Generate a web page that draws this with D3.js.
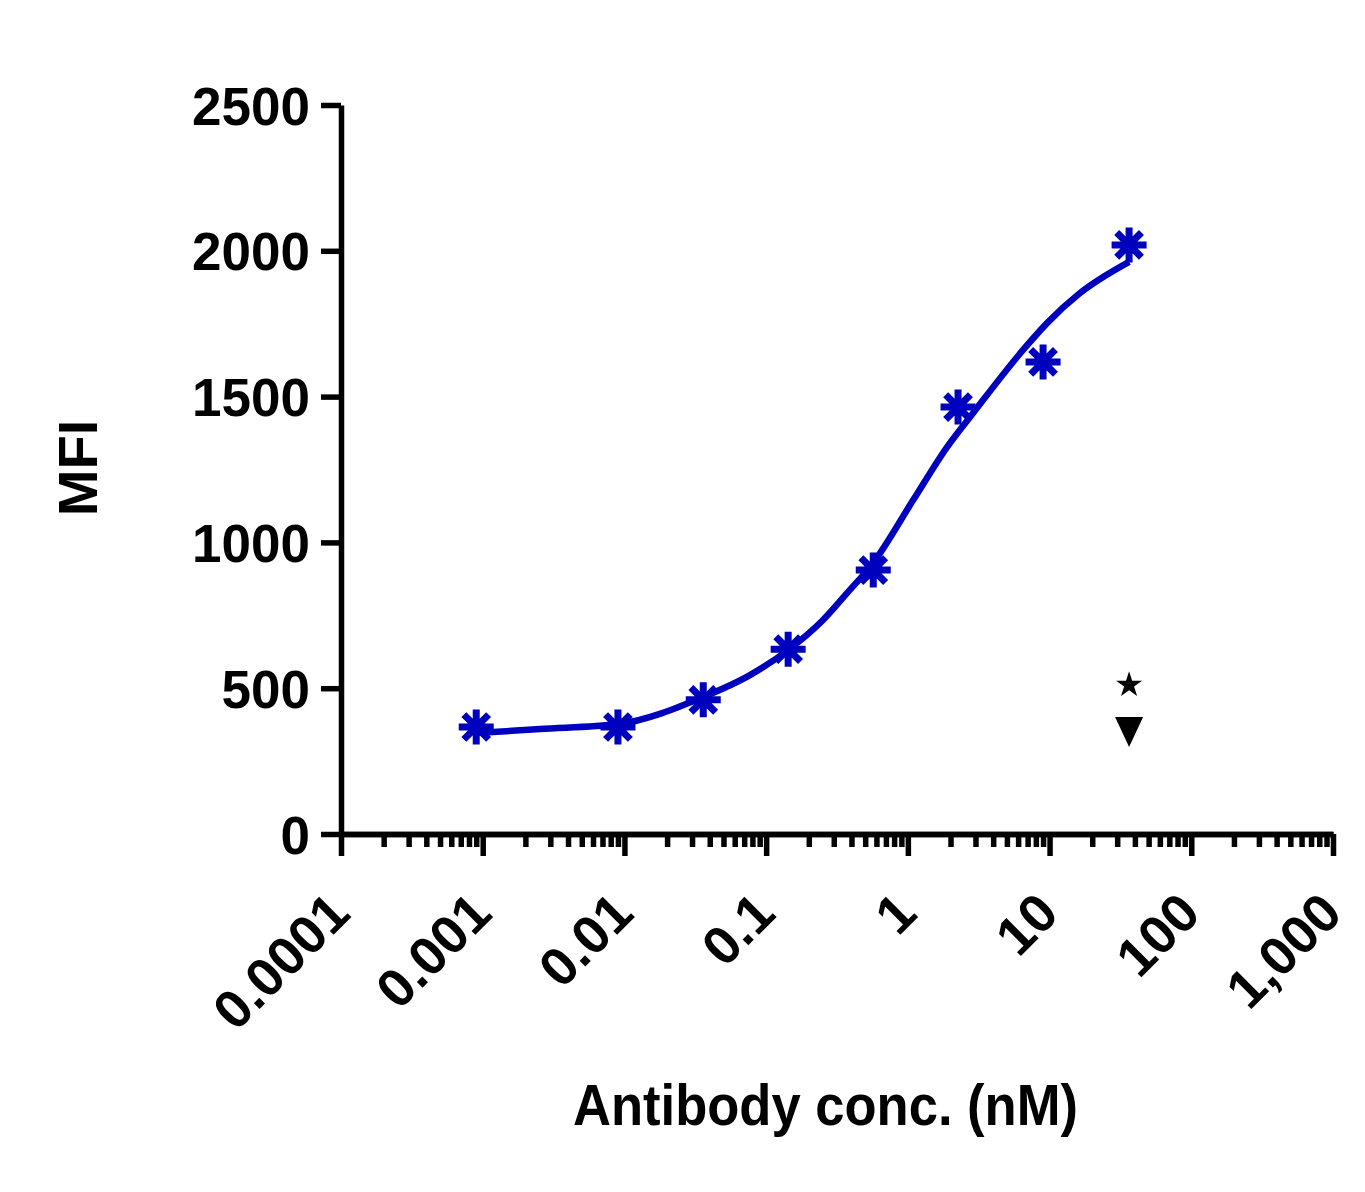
<!DOCTYPE html>
<html>
<head>
<meta charset="utf-8">
<script src="https://cdn.jsdelivr.net/npm/d3@7"></script>
<style>
  body { margin: 0; background: #fff; }
  text { font-family: "Liberation Sans", Arial, sans-serif; font-weight: bold; fill: #000; }
</style>
</head>
<body>
<div id="chart"></div>
<script>
// Data
var conc = [0.0009, 0.009, 0.036, 0.143, 0.57, 2.26, 9.0, 36.4];
var mfi = [367, 367, 460, 634, 905, 1464, 1619, 2020];

// fitted curve
var curveConc = [0.0009, 0.00254, 0.009, 0.036, 0.0769, 0.143, 0.252, 0.372, 0.568, 1.09, 1.89, 2.89, 6.5, 9.6, 16.4, 36.4];
var curveMfi = [346, 360, 377, 470, 545, 631, 734, 826, 929, 1145, 1327, 1444, 1660, 1752, 1855, 1962];

// two single black control points
var starPoint = { x: 36.4, y: 511 };
var trianglePoint = { x: 36.4, y: 350 };

var yTicks = [0, 500, 1000, 1500, 2000, 2500];
var xMajorTicks = [0.0001, 0.001, 0.01, 0.1, 1, 10, 100, 1000];
var xTickLabels = ["0.0001", "0.001", "0.01", "0.1", "1", "10", "100", "1,000"];

var svgWidth = 1365;
var svgHeight = 1192;
var blue = "#0000bf";

var svg = d3.select("#chart")
    .append("svg")
    .attr("width", svgWidth)
    .attr("height", svgHeight);

var xScale = d3.scaleLog()
    .domain([0.0001, 1000])
    .range([341, 1333]);

var yScale = d3.scaleLinear()
    .domain([0, 2500])
    .range([834, 105]);

// minor ticks 2..9 in each decade
var xMinorTicks = [];
xMajorTicks.slice(0, -1).forEach(function (d) {
    for (var k = 2; k <= 9; k++) xMinorTicks.push(d * k);
});

// Axes
var leftAxis = d3.axisLeft(yScale)
    .tickValues(yTicks)
    .tickSize(20)
    .tickSizeOuter(0)
    .tickPadding(11)
    .tickFormat(d3.format("d"));

var yAxisG = svg.append("g")
    .attr("transform", "translate(341,0)")
    .call(leftAxis);

yAxisG.selectAll("text")
    .attr("font-size", "53px")
    .attr("dy", "0.36em");

var minorAxis = d3.axisBottom(xScale)
    .tickValues(xMinorTicks)
    .tickSize(13)
    .tickSizeOuter(0)
    .tickFormat("");

svg.append("g")
    .attr("transform", "translate(0,834)")
    .call(minorAxis);

var bottomAxis = d3.axisBottom(xScale)
    .tickValues(xMajorTicks)
    .tickSize(22)
    .tickSizeOuter(0)
    .tickFormat(function (d, i) { return xTickLabels[i]; });

var xAxisG = svg.append("g")
    .attr("transform", "translate(0,834)")
    .call(bottomAxis);

xAxisG.selectAll("text")
    .attr("font-size", "54px")
    .attr("text-anchor", "end")
    .attr("y", 0)
    .attr("dy", 0)
    .attr("transform", "translate(11,82) rotate(-45)");

svg.selectAll(".domain, .tick line")
    .attr("stroke", "#000")
    .attr("stroke-width", 5.5);

svg.selectAll(".tick text").attr("fill", "#000");

// Axis titles
svg.append("text")
    .attr("transform", "translate(97,468) rotate(-90)")
    .attr("text-anchor", "middle")
    .attr("font-size", "56px")
    .text("MFI");

svg.append("text")
    .attr("x", 573)
    .attr("y", 1125)
    .attr("font-size", "58px")
    .attr("textLength", 505)
    .attr("lengthAdjust", "spacingAndGlyphs")
    .text("Antibody conc. (nM)");

// Fitted curve
var curveData = curveConc.map(function (c, i) { return { x: c, y: curveMfi[i] }; });

var line = d3.line()
    .x(function (d) { return xScale(d.x); })
    .y(function (d) { return yScale(d.y); })
    .curve(d3.curveMonotoneX);

svg.append("path")
    .datum(curveData)
    .attr("d", line)
    .attr("fill", "none")
    .attr("stroke", blue)
    .attr("stroke-width", 6.5);

// 8-arm asterisk marker
var asterisk = {
    draw: function (ctx, size) {
        var r = Math.sqrt(size) / 2;
        var q = r * Math.SQRT1_2;
        ctx.moveTo(0, -r); ctx.lineTo(0, r);
        ctx.moveTo(-r, 0); ctx.lineTo(r, 0);
        ctx.moveTo(-q, -q); ctx.lineTo(q, q);
        ctx.moveTo(-q, q); ctx.lineTo(q, -q);
    }
};

var points = conc.map(function (c, i) { return { x: c, y: mfi[i] }; });

svg.append("g").selectAll("path")
    .data(points)
    .enter()
    .append("path")
    .attr("transform", function (d) { return "translate(" + xScale(d.x) + "," + yScale(d.y) + ")"; })
    .attr("d", d3.symbol().type(asterisk).size(35 * 35))
    .attr("fill", "none")
    .attr("stroke", blue)
    .attr("stroke-width", 7);

// black control markers
svg.append("path")
    .attr("transform", "translate(" + xScale(starPoint.x) + "," + yScale(starPoint.y) + ")")
    .attr("d", d3.symbol().type(d3.symbolStar).size(210))
    .attr("fill", "#000");

var downTriangle = {
    draw: function (ctx, size) {
        var w = Math.sqrt(size) / 2;
        ctx.moveTo(-w, -w * 1.07);
        ctx.lineTo(w, -w * 1.07);
        ctx.lineTo(0, w * 1.07);
        ctx.closePath();
    }
};

svg.append("path")
    .attr("transform", "translate(" + xScale(trianglePoint.x) + "," + yScale(trianglePoint.y) + ")")
    .attr("d", d3.symbol().type(downTriangle).size(28 * 28))
    .attr("fill", "#000");
</script>
</body>
</html>
